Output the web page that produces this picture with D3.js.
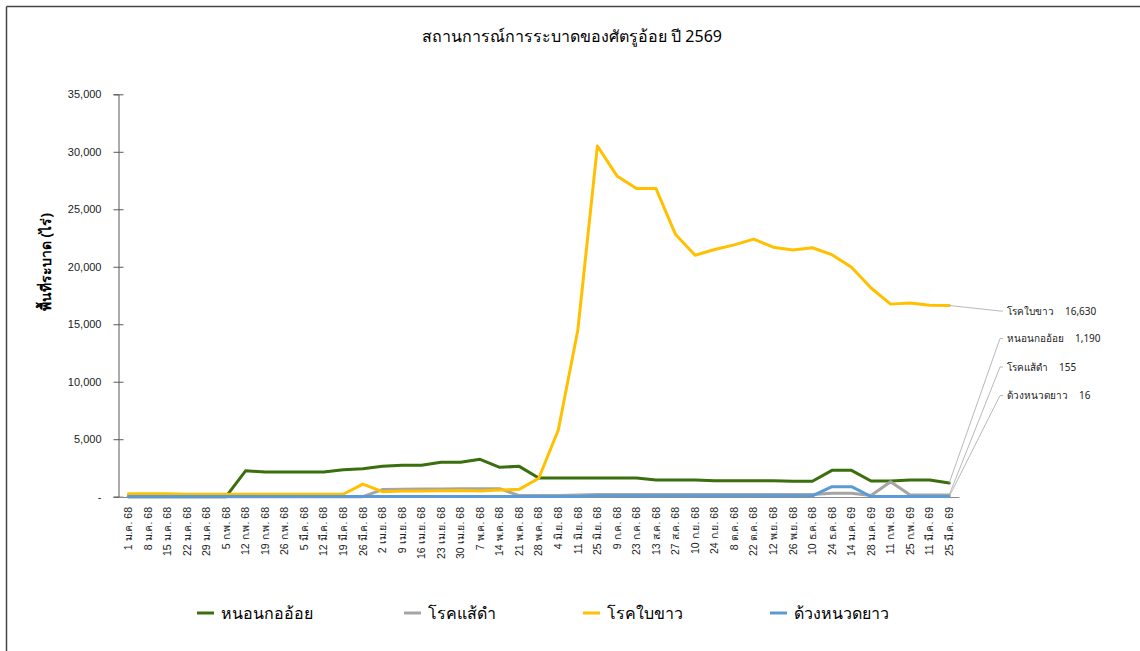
<!DOCTYPE html>
<html>
<head>
<meta charset="utf-8">
<script src="https://cdn.jsdelivr.net/npm/d3@7"></script>
<style>
  body { margin: 0; background: #fff; }
  svg { font-family: "Noto Sans", "DejaVu Sans", sans-serif; }
</style>
</head>
<body>
<div id="chart"></div>
<script>
const categories = [
  "1 ม.ค. 68", "8 ม.ค. 68", "15 ม.ค. 68", "22 ม.ค. 68", "29 ม.ค. 68", "5 ก.พ. 68",
  "12 ก.พ. 68", "19 ก.พ. 68", "26 ก.พ. 68", "5 มี.ค. 68", "12 มี.ค. 68", "19 มี.ค. 68",
  "26 มี.ค. 68", "2 เม.ย. 68", "9 เม.ย. 68", "16 เม.ย. 68", "23 เม.ย. 68", "30 เม.ย. 68",
  "7 พ.ค. 68", "14 พ.ค. 68", "21 พ.ค. 68", "28 พ.ค. 68", "4 มิ.ย. 68", "11 มิ.ย. 68",
  "25 มิ.ย. 68", "9 ก.ค. 68", "23 ก.ค. 68", "13 ส.ค. 68", "27 ส.ค. 68", "10 ก.ย. 68",
  "24 ก.ย. 68", "8 ต.ค. 68", "22 ต.ค. 68", "12 พ.ย. 68", "26 พ.ย. 68", "10 ธ.ค. 68",
  "24 ธ.ค. 68", "14 ม.ค. 69", "28 ม.ค. 69", "11 ก.พ. 69", "25 ก.พ. 69", "11 มี.ค. 69",
  "25 มี.ค. 69"
];

const borer = [0, 0, 0, 0, 0, 0, 2250, 2150, 2150, 2150, 2150, 2350, 2440, 2640, 2730, 2730,
  2990, 2990, 3250, 2560, 2640, 1630, 1630, 1630, 1630, 1630, 1630, 1450, 1450, 1450, 1390,
  1390, 1390, 1390, 1340, 1340, 2290, 2290, 1370, 1370, 1450, 1450, 1190];

const smut = [0, 0, 0, 0, 0, 0, 0, 0, 0, 0, 0, 0, 0, 620, 650, 660, 680, 700, 700, 700, 100,
  100, 100, 150, 200, 200, 200, 200, 200, 200, 200, 200, 200, 200, 200, 200, 300, 300, 100,
  1300, 150, 150, 155];

const whiteLeaf = [250, 250, 250, 210, 210, 210, 210, 210, 210, 210, 210, 210, 1100, 435, 500,
  500, 520, 540, 490, 580, 640, 1600, 5800, 14500, 30500, 27900, 26800, 26800, 22800, 21000,
  21500, 21900, 22400, 21700, 21450, 21650, 21050, 19950, 18150, 16750, 16850, 16650, 16630];

const longhorn = [20, 20, 20, 20, 20, 20, 20, 20, 20, 20, 20, 20, 20, 20, 20, 20, 20, 20, 20,
  20, 20, 20, 20, 20, 80, 80, 80, 80, 80, 80, 80, 80, 80, 80, 80, 80, 870, 870, 20, 20, 20,
  20, 16];

const seriesNames = ["หนอนกออ้อย", "โรคแส้ดำ", "โรคใบขาว", "ด้วงหนวดยาว"];
const seriesColors = ["#3b6e0c", "#a5a5a5", "#ffc000", "#5b9bd5"];
const yTicks = [0, 5000, 10000, 15000, 20000, 25000, 30000, 35000];

const title = "สถานการณ์การระบาดของศัตรูอ้อย ปี 2569";
const yTitle = "พื้นที่ระบาด (ไร่)";

const series = [borer, smut, whiteLeaf, longhorn].map((values, i) => ({
  name: seriesNames[i], color: seriesColors[i], values
}));

const W = 1140, H = 651;
const svg = d3.select("#chart").append("svg").attr("width", W).attr("height", H);

// frame (only top and left edges show)
svg.append("line").attr("x1", 6.5).attr("y1", 6.5).attr("x2", W).attr("y2", 6.5)
  .attr("stroke", "#444").attr("stroke-width", 1.5);
svg.append("line").attr("x1", 6.5).attr("y1", 6.5).attr("x2", 6.5).attr("y2", H)
  .attr("stroke", "#444").attr("stroke-width", 1.5);

const x = d3.scaleBand().domain(categories).range([118.5, 959]).padding(0);
const cx = d => x(d) + x.bandwidth() / 2;
const y = d3.scaleLinear().domain([0, 35000]).range([496.7, 94.3]);

svg.append("text").attr("x", 572).attr("y", 42).attr("text-anchor", "middle")
  .attr("font-size", 16).attr("fill", "#000").text(title);

// y axis
const yAxis = svg.append("g").attr("transform", "translate(118.5,0)")
  .call(d3.axisLeft(y).tickValues(yTicks).tickSize(5).tickPadding(12)
    .tickFormat(d => d === 0 ? "-" : d3.format(",")(d)));
yAxis.select(".domain").attr("stroke", "#595959");
yAxis.selectAll(".tick line").attr("x2", -5).attr("x1", 5).attr("stroke", "#595959");
yAxis.selectAll(".tick text").attr("font-size", 11).attr("fill", "#222")
  .attr("font-family", "Liberation Sans, sans-serif");

svg.append("text")
  .attr("transform", "translate(46,262) rotate(-90)")
  .attr("text-anchor", "middle").attr("dy", "0.35em")
  .attr("font-size", 14).attr("font-weight", "bold").attr("fill", "#000").text(yTitle);

// x axis
const xAxis = svg.append("g").attr("transform", "translate(0,497)")
  .call(d3.axisBottom(x).tickSize(0).tickPadding(0));
xAxis.select(".domain").attr("stroke", "#8c8c8c");
xAxis.selectAll(".tick text")
  .attr("transform", "rotate(-90)")
  .attr("text-anchor", "end")
  .attr("x", -10).attr("y", 0).attr("dy", "0.35em")
  .attr("font-size", 10.5).attr("fill", "#222");

// lines
const line = d3.line().x((d, i) => cx(categories[i])).y(d => y(d));
series.forEach(s => {
  svg.append("path").datum(s.values).attr("d", line)
    .attr("fill", "none").attr("stroke", s.color).attr("stroke-width", 3)
    .attr("stroke-linejoin", "round").attr("stroke-linecap", "round");
});

// end labels with leader lines
const lastCat = categories[categories.length - 1];
const labelPos = [
  { s: 0, ly: 338.5 },
  { s: 1, ly: 367 },
  { s: 2, ly: 311 },
  { s: 3, ly: 395.5 }
];
labelPos.forEach(p => {
  const s = series[p.s];
  const v = s.values[s.values.length - 1];
  const g = svg.append("g");
  g.append("polyline")
    .attr("points", `${cx(lastCat)},${y(v)} 1000,${p.ly} 1003,${p.ly}`)
    .attr("fill", "none").attr("stroke", "#a6a6a6").attr("stroke-width", 0.8);
  const nameText = g.append("text").attr("x", 1007).attr("y", p.ly).attr("dy", "0.35em")
    .attr("font-size", 10).attr("fill", "#222").text(s.name);
  const w = nameText.node().getComputedTextLength();
  g.append("text").attr("x", 1007 + w + 11).attr("y", p.ly).attr("dy", "0.35em")
    .attr("font-size", 10).attr("fill", "#222").text(d3.format(",")(v));
});

// legend
const legendX = [197, 404, 583, 770];
const legend = svg.append("g").attr("transform", "translate(0,613)");
series.forEach((s, i) => {
  const g = legend.append("g").attr("transform", `translate(${legendX[i]},0)`);
  g.append("line").attr("x1", 0).attr("x2", 17).attr("stroke", s.color).attr("stroke-width", 3);
  g.append("text").attr("x", 24).attr("dy", "0.35em").attr("font-size", 16)
    .attr("fill", "#000").text(s.name);
});
</script>
</body>
</html>
